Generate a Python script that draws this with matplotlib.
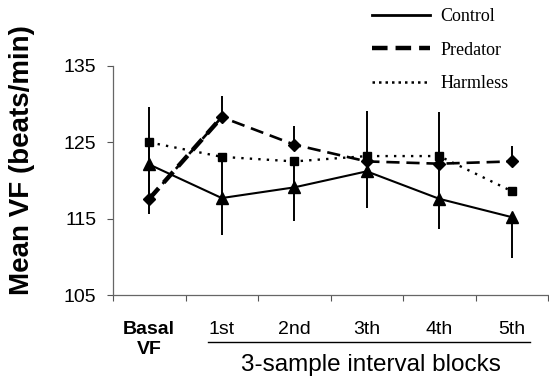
import matplotlib
matplotlib.use('Agg')
import matplotlib.pyplot as plt
from matplotlib.lines import Line2D
import numpy as np

# data
categories = ['Basal\nVF', '1st', '2nd', '3th', '4th', '5th']
control = [122.1, 117.7, 119.1, 121.2, 117.6, 115.2]
control_err = [6.5, 4.9, 4.4, 4.8, 4.0, 5.3]      # drawn downwards
predator = [117.6, 128.3, 124.7, 122.5, 122.2, 122.5]
predator_err = [12.0, 2.8, 2.5, 6.6, 6.8, 2.0]    # drawn upwards
harmless = [125.0, 123.1, 122.5, 123.2, 123.2, 118.6]
harmless_err = [3.0, 5.4, 3.4, 2.0, 5.6, 0.0]     # drawn downwards
yticks = [105, 115, 125, 135]

plt.rcParams['font.family'] = 'Liberation Sans'

fig = plt.figure(figsize=(5.49, 3.8), dpi=100)
ax = fig.add_axes([113/549, 1 - 295/380, 435/549, 229/380])

x = np.arange(len(categories))
zeros = [0] * len(categories)

dotted = (0, (1, 2.6))
ax.errorbar(x, harmless, yerr=[harmless_err, zeros], fmt='none', ecolor='black', elinewidth=1.4, zorder=2)
ax.errorbar(x, predator, yerr=[zeros, predator_err], fmt='none', ecolor='black', elinewidth=1.4, zorder=2)
ax.errorbar(x, control, yerr=[control_err, zeros], fmt='none', ecolor='black', elinewidth=1.4, zorder=2)

ax.plot(x, harmless, color='black', linestyle=dotted, lw=1.7, marker='s', ms=6, zorder=3)
ax.plot(x, predator, color='black', linestyle=(0, (5, 2.6)), lw=1.9, marker='D', ms=6, zorder=3)
ax.plot(x[:2], predator[:2], color='black', linestyle=(0, (3.2, 1.7)), lw=3.2, zorder=3)
ax.plot(x, control, color='black', linestyle='-', lw=1.5, marker='^', ms=8.5, zorder=4)

ax.set_xlim(-0.5, len(categories) - 0.5)
ax.set_ylim(105, 135)
ax.set_yticks(yticks)
ax.set_yticklabels([str(v) for v in yticks], fontsize=14)
ax.set_xticks(x)
ax.set_xticklabels(categories, fontsize=14)
ax.get_xticklabels()[0].set_fontweight('bold')
ax.set_xticks(np.arange(-0.5, len(categories)), minor=True)
ax.tick_params(axis='x', which='major', length=0, pad=19)
ax.tick_params(axis='x', which='minor', length=4, width=0.8, color='#555555', direction='out')
ax.tick_params(axis='y', length=4, width=0.8, color='#555555', direction='out', pad=8)

for side in ['top', 'right']:
    ax.spines[side].set_visible(False)
for side in ['left', 'bottom']:
    ax.spines[side].set_color('#666666')
    ax.spines[side].set_linewidth(0.9)

fig.text(22/549, 1 - 160/380, 'Mean VF (beats/min)', rotation=90, fontsize=20,
         fontweight='bold', ha='center', va='center')
fig.text(371/549, 1 - 365/380, '3-sample interval blocks', fontsize=17.5,
         ha='center', va='center')
fig.add_artist(Line2D([208/549, 530/549], [1 - 342/380, 1 - 342/380],
                      transform=fig.transFigure, color='black', lw=1.0))

handles = [Line2D([], [], color='black', lw=2.0, linestyle='-'),
           Line2D([], [], color='black', lw=3.2, linestyle=(0, (3.5, 1.8))),
           Line2D([], [], color='black', lw=1.8, linestyle=(0, (1, 1.6)))]
fig.legend(handles, ['Control', 'Predator', 'Harmless'], loc='upper left',
           bbox_to_anchor=(372/549, 1 - 8/380), frameon=False, borderpad=0,
           borderaxespad=0, handlelength=3.2, handletextpad=0.6, labelspacing=0.92,
           prop={'family': 'Liberation Serif', 'size': 13})

fig.savefig('out.png', dpi=100)
